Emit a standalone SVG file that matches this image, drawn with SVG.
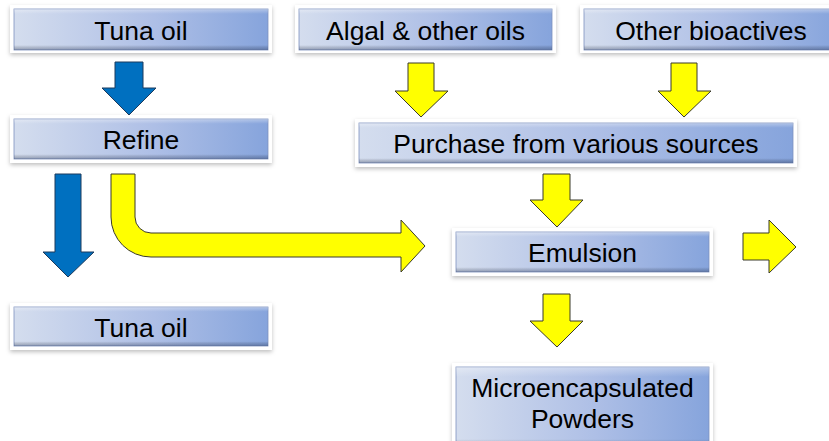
<svg xmlns="http://www.w3.org/2000/svg" width="829" height="441" viewBox="0 0 829 441">
<defs>
<linearGradient id="boxg" x1="0" y1="0" x2="1" y2="0">
<stop offset="0" stop-color="#d4ddee"/>
<stop offset="0.55" stop-color="#aebfe6"/>
<stop offset="1" stop-color="#86a4dc"/>
</linearGradient>
<linearGradient id="shade" x1="0" y1="0" x2="0" y2="1">
<stop offset="0" stop-color="#ffffff" stop-opacity="0.35"/>
<stop offset="0.12" stop-color="#ffffff" stop-opacity="0"/>
<stop offset="0.88" stop-color="#000000" stop-opacity="0"/>
<stop offset="1" stop-color="#1a2a50" stop-opacity="0.35"/>
</linearGradient>
<filter id="sh" x="-10%" y="-30%" width="120%" height="160%">
<feDropShadow dx="0" dy="2" stdDeviation="2" flood-color="#000" flood-opacity="0.25"/>
</filter>
</defs>
<style>
.frame{fill:#ffffff;filter:url(#sh)}
.box{fill:url(#boxg);stroke:#7e92bf;stroke-width:0.8}
.bev{fill:url(#shade)}
.t{font-family:"Liberation Sans",Arial,sans-serif;font-size:26.5px;fill:#000;text-anchor:middle}
.blue{fill:#0070c0;stroke:#1d3a5c;stroke-width:1}
.yel{fill:#ffff00;stroke:#3a3a2a;stroke-width:1}
</style>

<g id="connectors">
<path class="blue" d="M115,62 H143 V88 H156 L129,115 L102,88 H115 Z"/>
<path class="blue" d="M55,174 H81 V252 H94 L68,277 L43,252 H55 Z"/>
<path class="yel" d="M408,63 H434 V91 H448 L421,117 L395,91 H408 Z"/>
<path class="yel" d="M671,63 H697 V91 H711 L684,117 L658,91 H671 Z"/>
<path class="yel" d="M543,174 H570 V200 H583 L557,227 L530,200 H543 Z"/>
<path class="yel" d="M543,294 H570 V321 H583 L557,347 L530,321 H543 Z"/>
<path class="yel" d="M743,233 H769 V220 L796,247 L769,273 V260 H743 Z"/>
<path class="yel" d="M111,174 H135 V217 A16,16 0 0 0 151,233 H401 V220 L425,246 L401,272 V257 H151 A40,40 0 0 1 111,217 Z"/>
</g>

<g id="tuna-oil-top">
<rect class="frame" x="10" y="5" width="262" height="48"/>
<rect class="box" x="14" y="9" width="254" height="41"/>
<rect class="bev" x="14" y="9" width="254" height="41"/>
<text class="t" x="141" y="39.5">Tuna oil</text>
</g>

<g id="algal-oils">
<rect class="frame" x="295" y="5" width="261" height="48"/>
<rect class="box" x="299" y="9" width="253" height="41"/>
<rect class="bev" x="299" y="9" width="253" height="41"/>
<text class="t" x="425.5" y="39.5">Algal &amp; other oils</text>
</g>

<g id="other-bioactives">
<rect class="frame" x="580" y="5" width="262" height="48"/>
<rect class="box" x="584" y="9" width="254" height="41"/>
<rect class="bev" x="584" y="9" width="254" height="41"/>
<text class="t" x="711" y="39.5">Other bioactives</text>
</g>

<g id="refine">
<rect class="frame" x="10" y="115" width="262" height="48"/>
<rect class="box" x="14" y="119" width="254" height="40"/>
<rect class="bev" x="14" y="119" width="254" height="40"/>
<text class="t" x="141" y="148.5">Refine</text>
</g>

<g id="purchase">
<rect class="frame" x="355" y="119" width="442" height="48"/>
<rect class="box" x="359" y="123" width="434" height="40"/>
<rect class="bev" x="359" y="123" width="434" height="40"/>
<text class="t" x="576" y="152.5">Purchase from various sources</text>
</g>

<g id="emulsion">
<rect class="frame" x="452" y="228" width="261" height="48"/>
<rect class="box" x="456" y="232" width="253" height="40"/>
<rect class="bev" x="456" y="232" width="253" height="40"/>
<text class="t" x="582.5" y="261.5">Emulsion</text>
</g>

<g id="tuna-oil-bottom">
<rect class="frame" x="10" y="303" width="262" height="47"/>
<rect class="box" x="14" y="307" width="254" height="39"/>
<rect class="bev" x="14" y="307" width="254" height="39"/>
<text class="t" x="141" y="336.5">Tuna oil</text>
</g>

<g id="microencapsulated-powders">
<rect class="frame" x="452" y="363" width="261" height="90"/>
<rect class="box" x="456" y="367" width="253" height="82"/>
<rect class="bev" x="456" y="367" width="253" height="82"/>
<text class="t" x="582.5" y="397">Microencapsulated</text>
<text class="t" x="582.5" y="428">Powders</text>
</g>
</svg>
